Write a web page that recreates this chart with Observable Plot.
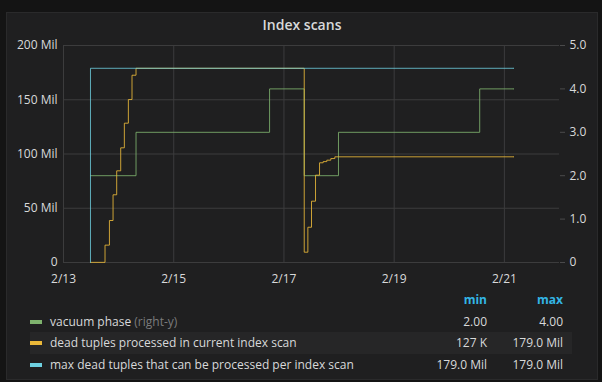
<!DOCTYPE html>
<html>
<head>
<meta charset="utf-8">
<script src="https://cdn.jsdelivr.net/npm/d3@7"></script>
<script src="https://cdn.jsdelivr.net/npm/@observablehq/plot@0.6"></script>
<style>
  html, body { margin: 0; padding: 0; }
  body { width: 602px; height: 382px; overflow: hidden; background: #141414; font-family: "Open Sans", sans-serif; color: #d8d9da; }
  #panel { position: absolute; left: 6px; top: 12px; width: 590px; height: 366px; border: 1px solid #2a2a2b; background: #1f1f20; }
  #title { height: 24px; line-height: 24px; text-align: center; font-size: 14px; font-weight: 600; color: #d8d9da; }
  #chart { height: 255px; }
  #legend { position: relative; font-size: 12px; }
  .row { position: relative; height: 21.5px; line-height: 21.5px; margin-left: 23px; width: 542px; }
  .hdr { height: 16px; line-height: 16px; margin-bottom: 2.5px; }
  .band { background: #262627; }
  .sw { position: absolute; left: 0; top: 9px; width: 12px; height: 4px; }
  .name { position: absolute; left: 20px; white-space: nowrap; }
  .muted { color: #7b7b7c; }
  .min { position: absolute; right: 85px; text-align: right; white-space: nowrap; }
  .max { position: absolute; right: 9px; text-align: right; white-space: nowrap; }
  .hdr .min, .hdr .max { color: #33b5e5; font-weight: 700; }
</style>
</head>
<body>
<div id="panel">
  <div id="title">Index scans</div>
  <div id="chart"></div>
  <div id="legend"></div>
</div>
<script>
// ---- data (UTC) ----
const seriesNames = ["vacuum phase", "dead tuples processed in current index scan", "max dead tuples that can be processed per index scan"];
const seriesColors = ["#7eb26d", "#eab839", "#6ed0e0"];
const legendMin = ["2.00", "127 K", "179.0 Mil"];
const legendMax = ["4.00", "179.0 Mil", "179.0 Mil"];

// vacuum phase (right axis, 0–5)
const phaseTimes = ["2017-02-13T11:45Z", "2017-02-14T07:35Z", "2017-02-16T17:45Z", "2017-02-17T08:50Z", "2017-02-17T23:45Z", "2017-02-20T13:15Z", "2017-02-21T04:10Z"];
const phaseValues = [2, 3, 4, 2, 3, 4, 4];

// dead tuples processed (Mil)
const deadTimes = ["2017-02-13T11:45Z", "2017-02-13T18:05Z", "2017-02-13T20:00Z", "2017-02-13T21:35Z", "2017-02-13T23:10Z",
  "2017-02-14T00:55Z", "2017-02-14T02:30Z", "2017-02-14T04:15Z", "2017-02-14T05:50Z", "2017-02-14T07:35Z",
  "2017-02-17T08:50Z", "2017-02-17T10:25Z", "2017-02-17T12:00Z", "2017-02-17T13:45Z", "2017-02-17T15:30Z",
  "2017-02-17T17:05Z", "2017-02-17T18:40Z", "2017-02-17T20:25Z", "2017-02-17T22:10Z", "2017-02-21T04:10Z"];
const deadValues = [0.127, 16, 38.7, 62.4, 84.5, 105.7, 128.4, 150.2, 172.6, 179.0,
  9.5, 32.5, 56.5, 80.5, 91.9, 93.0, 94.3, 95.8, 97.4, 97.4];

// max dead tuples (Mil)
const maxTimes = ["2017-02-13T11:45Z", "2017-02-13T11:45Z", "2017-02-21T04:10Z"];
const maxValues = [0, 179.0, 179.0];

const xTickLabels = ["2/13", "2/15", "2/17", "2/19", "2/21"];
const xTickDates = ["2017-02-13T00:00Z", "2017-02-15T00:00Z", "2017-02-17T00:00Z", "2017-02-19T00:00Z", "2017-02-21T00:00Z"];
const leftTicks = [0, 50, 100, 150, 200];      // Mil
const rightTicks = [0, 1, 2, 3, 4, 5];        // phase
const xDomain = ["2017-02-13T00:00Z", "2017-02-22T00:00Z"];

// ---- build tables ----
const MIL = 1e6;
const RIGHT_FACTOR = 200 / 5; // right-axis unit in Mil
const phase = phaseTimes.map((t, i) => ({t: new Date(t), v: phaseValues[i]}));
const dead = deadTimes.map((t, i) => ({t: new Date(t), v: deadValues[i]}));
const maxd = maxTimes.map((t, i) => ({t: new Date(t), v: maxValues[i]}));
const xTicks = xTickDates.map(d => new Date(d));
const yTicks = leftTicks.map(v => v * MIL);
const labelOf = new Map(xTicks.map((d, i) => [+d, xTickLabels[i]]));
const grid = "#3c3c3d";

const chart = Plot.plot({
  width: 590,
  height: 255,
  marginLeft: 56,
  marginRight: 38,
  marginTop: 8,
  marginBottom: 30,
  style: {background: "transparent", color: "#d8d9da", fontFamily: "Open Sans", fontSize: "12px"},
  x: {type: "utc", domain: xDomain.map(d => new Date(d))},
  y: {domain: [0, 200 * MIL]},
  marks: [
    Plot.ruleX(xTicks, {stroke: grid, strokeWidth: 1}),
    Plot.ruleY(yTicks, {stroke: grid, strokeWidth: 1}),
    Plot.axisX({ticks: xTicks, tickFormat: d => labelOf.get(+d), tickSize: 0, tickPadding: 12, label: null}),
    Plot.axisY({anchor: "left", ticks: yTicks, tickFormat: d => d === 0 ? "0" : (d / MIL) + " Mil", tickSize: 0, tickPadding: 6, label: null}),
    Plot.axisY({anchor: "right", ticks: rightTicks.map(v => v * RIGHT_FACTOR * MIL), tickFormat: d => d === 0 ? "0" : (d / MIL / RIGHT_FACTOR).toFixed(1), tickSize: 5, tickPadding: 5, label: null}),
    Plot.line(phase, {x: "t", y: d => d.v * RIGHT_FACTOR * MIL, curve: "step-after", stroke: seriesColors[0], strokeWidth: 1, strokeOpacity: 0.85}),
    Plot.line(dead, {x: "t", y: d => d.v * MIL, curve: "step-after", stroke: seriesColors[1], strokeWidth: 1, strokeOpacity: 0.85}),
    Plot.line(maxd, {x: "t", y: d => d.v * MIL, curve: "step-after", stroke: seriesColors[2], strokeWidth: 1, strokeOpacity: 0.8})
  ]
});
chart.querySelectorAll('g[aria-label="y-axis tick"]').forEach(g => g.setAttribute("stroke", "#4a4a4b"));
document.getElementById("chart").appendChild(chart);

// ---- legend ----
const legend = document.getElementById("legend");
let html = '<div class="row hdr"><span class="min">min</span><span class="max">max</span></div>';
seriesNames.forEach((n, i) => {
  const extra = i === 0 ? ' <span class="muted">(right-y)</span>' : '';
  html += `<div class="row${i === 1 ? ' band' : ''}"><span class="sw" style="background:${seriesColors[i]}"></span>` +
    `<span class="name">${n}${extra}</span><span class="min">${legendMin[i]}</span><span class="max">${legendMax[i]}</span></div>`;
});
legend.innerHTML = html;
</script>
</body>
</html>
